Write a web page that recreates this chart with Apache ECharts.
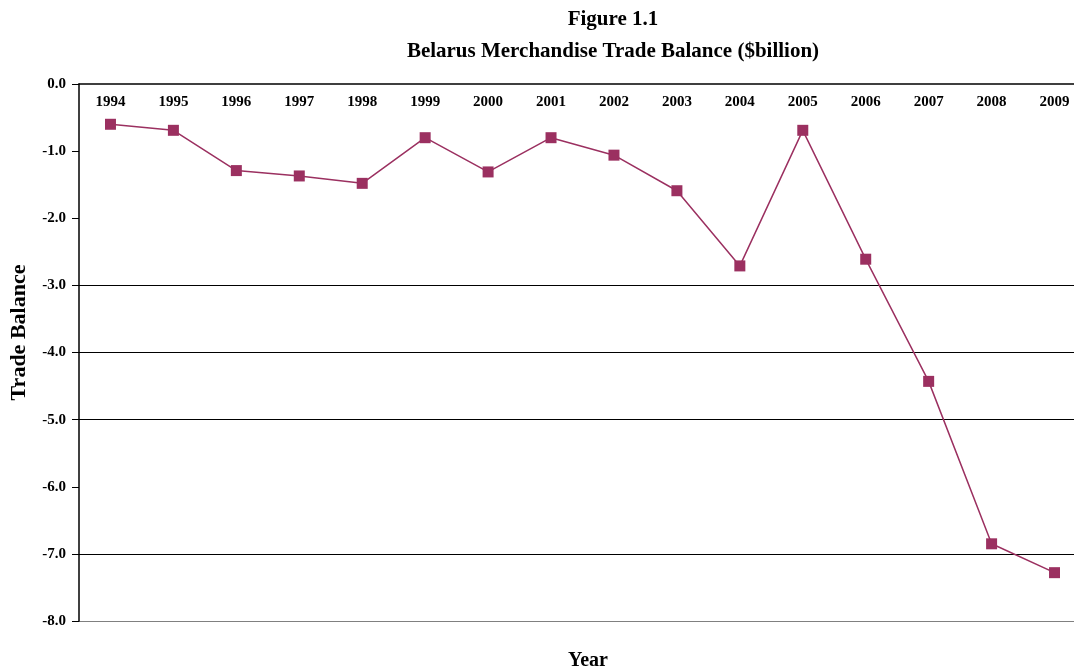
<!DOCTYPE html>
<html>
<head>
<meta charset="utf-8">
<script src="https://cdn.jsdelivr.net/npm/echarts@6/dist/echarts.min.js"></script>
<style>
  html, body { margin: 0; padding: 0; background: #fff; }
  #chart { width: 1074px; height: 667px; }
</style>
</head>
<body>
<div id="chart"></div>
<script>
var years = ["1994", "1995", "1996", "1997", "1998", "1999", "2000", "2001",
  "2002", "2003", "2004", "2005", "2006", "2007", "2008", "2009"];
var tradeBalance = [-0.60, -0.69, -1.29, -1.37, -1.48, -0.80, -1.31, -0.80,
  -1.06, -1.59, -2.71, -0.69, -2.61, -4.43, -6.85, -7.28];
var yMin = -8;
var yMax = 0;
var yStep = 1;

var font = "'Liberation Serif', 'Times New Roman', serif";
var chart = echarts.init(document.getElementById("chart"));

var option = {
  animation: false,
  backgroundColor: "#fff",
  title: [
    {
      text: "Figure 1.1\nBelarus Merchandise Trade Balance ($billion)",
      left: 608,
      top: -1,
      textAlign: "center",
      textStyle: {
        fontFamily: font,
        fontWeight: "bold",
        fontSize: 21,
        lineHeight: 32,
        color: "#000",
      },
    },
    {
      text: "Year",
      left: 583,
      top: 646,
      textAlign: "center",
      textStyle: {
        fontFamily: font,
        fontWeight: "bold",
        fontSize: 20,
        color: "#000",
      },
    },
  ],
  grid: {
    left: 79,
    right: -12,
    top: 84,
    bottom: 46,
    outerBoundsMode: "none",
    containLabel: false,
  },
  xAxis: {
    type: "category",
    data: years,
    position: "top",
    boundaryGap: true,
    axisLine: {
      lineStyle: { color: "#000", width: 1.5 },
    },
    axisTick: {
      inside: true,
      length: 5,
      lineStyle: { color: "#808080" },
    },
    axisLabel: {
      inside: true,
      margin: 11,
      fontFamily: font,
      fontWeight: "bold",
      fontSize: 15,
      color: "#000",
    },
    splitLine: { show: false },
  },
  yAxis: {
    type: "value",
    min: yMin,
    max: yMax,
    interval: yStep,
    name: "Trade Balance",
    nameLocation: "middle",
    nameGap: 49,
    nameTextStyle: {
      fontFamily: font,
      fontWeight: "bold",
      fontSize: 22,
      color: "#000",
      padding: [0, 0, 0, 40],
    },
    axisLine: {
      show: true,
      lineStyle: { color: "#000", width: 1.5 },
    },
    axisTick: {
      show: true,
      length: 7,
      lineStyle: { color: "#000" },
    },
    axisLabel: {
      margin: 13,
      fontFamily: font,
      fontWeight: "bold",
      fontSize: 15,
      color: "#000",
      formatter: function (v) {
        return v.toFixed(1);
      },
    },
    splitLine: {
      show: true,
      lineStyle: {
        width: 1.2,
        // only some gridlines are drawn in the original
        color: ["#808080", "#000", "rgba(0,0,0,0)", "#000", "#000", "#000",
          "rgba(0,0,0,0)", "rgba(0,0,0,0)", "rgba(0,0,0,0)"],
      },
    },
  },
  series: [
    {
      name: "Trade Balance",
      type: "line",
      data: tradeBalance,
      symbol: "rect",
      symbolSize: 11,
      lineStyle: { color: "#9B3060", width: 1.5 },
      itemStyle: { color: "#9B3060" },
    },
  ],
};
chart.setOption(option);
</script>
</body>
</html>
